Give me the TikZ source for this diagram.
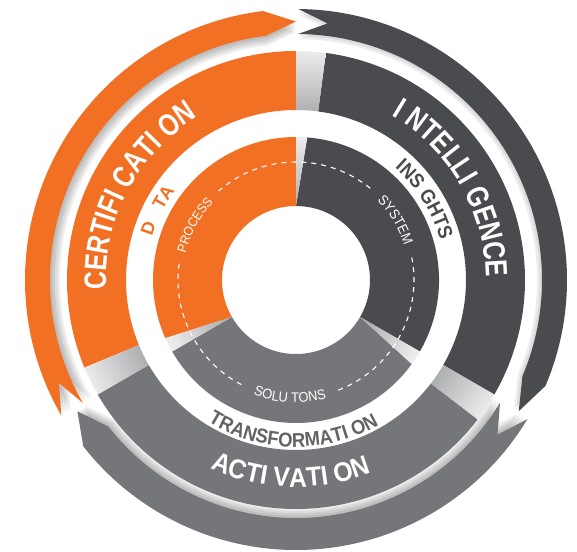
\documentclass[tikz,border=0pt]{standalone}
\usepackage{fontspec}
\usetikzlibrary{decorations.text}
\newfontfamily\condfont[FakeStretch=0.8]{Liberation Sans}
\newfontfamily\plainfont{Liberation Sans}
\newfontfamily\semifont[FakeStretch=0.92]{Liberation Sans}
\definecolor{orangeC}{RGB}{241,112,35}
\definecolor{darkC}{RGB}{74,75,78}
\definecolor{grayC}{RGB}{117,118,121}
\definecolor{textgrayC}{RGB}{98,99,102}
\definecolor{lightC}{RGB}{236,236,237}
\definecolor{midC}{RGB}{175,176,178}
% annular sector: start angle, end angle, outer r, inner r
\newcommand\annsec[4]{(#1:#3pt) arc[start angle=#1,end angle=#2,radius=#3pt] -- (#2:#4pt) arc[start angle=#2,end angle=#1,radius=#4pt] -- cycle}
% outer arrow shapes
\newcommand\orangearrow{(210:271pt) arc[start angle=210,end angle=97,radius=271pt] -- (90:258.5pt) -- (97:246pt) arc[start angle=97,end angle=210,radius=246pt] -- (203.5:258.5pt) -- cycle}
\newcommand\darkarrow{(89.5:271pt) arc[start angle=89.5,end angle=-23,radius=271pt] -- (-30.5:258.5pt) -- (-23:246pt) arc[start angle=-23,end angle=89.5,radius=246pt] -- (83:258.5pt) -- cycle}
\newcommand\grayarrow{(-31:270pt) arc[start angle=-31,end angle=-142,radius=270pt] -- (-149:255pt) -- (-142:238pt) arc[start angle=-142,end angle=-31,radius=238pt] -- (-37.5:254pt) -- cycle}
% clockwise text (tops outward): centre angle, baseline radius, format, text
\newcommand\cwlabel[4]{\path[decorate,decoration={text along path,text align=center,text={|#3|#4}}] (#1+80:#2pt) arc[start angle=#1+80,end angle=#1-80,radius=#2pt];}
% counter-clockwise text (tops inward)
\newcommand\ccwlabel[4]{\path[decorate,decoration={text along path,text align=center,text={|#3|#4}}] (#1-80:#2pt) arc[start angle=#1-80,end angle=#1+80,radius=#2pt];}
\tikzset{
  dashring/.style={white, line width=1.1pt, dash pattern=on 5pt off 5pt},
  softshadow/.style={black, opacity=0.07},
}
\begin{document}
\begin{tikzpicture}
\useasboundingbox (-296pt,-271pt) rectangle (281pt,280pt);

% ---------- soft inward shadows of the outer arrows ----------
\foreach \s in {0.99,0.98,0.97,0.96}{
  \fill[softshadow, scale=\s] \orangearrow;
  \fill[softshadow, scale=\s] \grayarrow;
}
\foreach \s in {0.99,0.98}{
  \fill[softshadow, scale=\s] \darkarrow;
}

% ---------- outer arrows ----------
\fill[orangeC] \orangearrow;
\fill[darkC] \darkarrow;
\fill[grayC] \grayarrow;

% ---------- middle band (r 170 -- 229) ----------
\fill[orangeC] \annsec{90}{202.5}{229}{170};
\fill[grayC] \annsec{210}{322.5}{229}{170};
\fill[darkC] \annsec{330}{442.5}{229}{170};
\shade[left color=midC, right color=lightC, shading angle=180] \annsec{82.5}{90}{229}{170};
\shade[left color=midC, right color=lightC, shading angle=56] \annsec{322.5}{330}{229}{170};
\shade[left color=midC, right color=lightC, shading angle=296] \annsec{202.5}{210}{229}{170};

% ---------- inner ring (r 74 -- 143) ----------
\fill[orangeC] (90:74pt) -- (90:143pt) arc[start angle=90,end angle=204,radius=143pt] -- (210:74pt) arc[start angle=210,end angle=90,radius=74pt] -- cycle;
\fill[grayC] (210:74pt) -- (210:143pt) arc[start angle=210,end angle=324,radius=143pt] -- (330:74pt) arc[start angle=330,end angle=210,radius=74pt] -- cycle;
\fill[darkC] (-30:74pt) -- (-30:143pt) arc[start angle=-30,end angle=85.5,radius=143pt] -- (90:74pt) arc[start angle=90,end angle=-30,radius=74pt] -- cycle;
\shade[left color=midC, right color=lightC, shading angle=178] (90:74pt) -- (85.5:143pt) arc[start angle=85.5,end angle=90,radius=143pt] -- cycle;
\shade[left color=midC, right color=lightC, shading angle=57] (330:74pt) -- (324:143pt) arc[start angle=324,end angle=330,radius=143pt] -- cycle;
\shade[left color=midC, right color=lightC, shading angle=297] (210:74pt) -- (204:143pt) arc[start angle=204,end angle=210,radius=143pt] -- cycle;

% ---------- dashed circle ----------
\draw[dashring] (51:118pt) arc[start angle=51,end angle=131,radius=118pt];
\draw[dashring] (172:118pt) arc[start angle=172,end angle=243,radius=118pt];
\draw[dashring] (291:118pt) arc[start angle=291,end angle=371,radius=118pt];

% ---------- labels ----------
\cwlabel{152}{190}{\condfont\bfseries\fontsize{31pt}{31pt}\selectfont\color{white}}{CERTIFI CATI ON}
\cwlabel{30.3}{190}{\condfont\bfseries\fontsize{31pt}{31pt}\selectfont\color{white}}{I NTELLI GENCE}
\ccwlabel{268.5}{207}{\semifont\bfseries\fontsize{27pt}{27pt}\selectfont\color{white}}{ACTI VATI ON}

\cwlabel{160.6}{150.5}{\plainfont\bfseries\fontsize{18pt}{18pt}\selectfont\color{orangeC}}{D}
\cwlabel{148}{150.5}{\plainfont\bfseries\fontsize{18pt}{18pt}\selectfont\color{orangeC}}{TA}
\cwlabel{32}{149.5}{\semifont\bfseries\fontsize{20pt}{20pt}\selectfont\color{darkC}}{INS GHTS}
\ccwlabel{269}{167}{\semifont\bfseries\fontsize{20pt}{20pt}\selectfont\color{textgrayC}}{TRANSFORMATI ON}

\cwlabel{151.5}{113.5}{\semifont\fontsize{13pt}{13pt}\selectfont\color{white}}{PROCESS}
\cwlabel{31}{113.5}{\semifont\fontsize{14pt}{14pt}\selectfont\color{white}}{SYSTEM}
\ccwlabel{267}{122.5}{\semifont\fontsize{14pt}{14pt}\selectfont\color{white}}{SOLU TONS}
\end{tikzpicture}
\end{document}
